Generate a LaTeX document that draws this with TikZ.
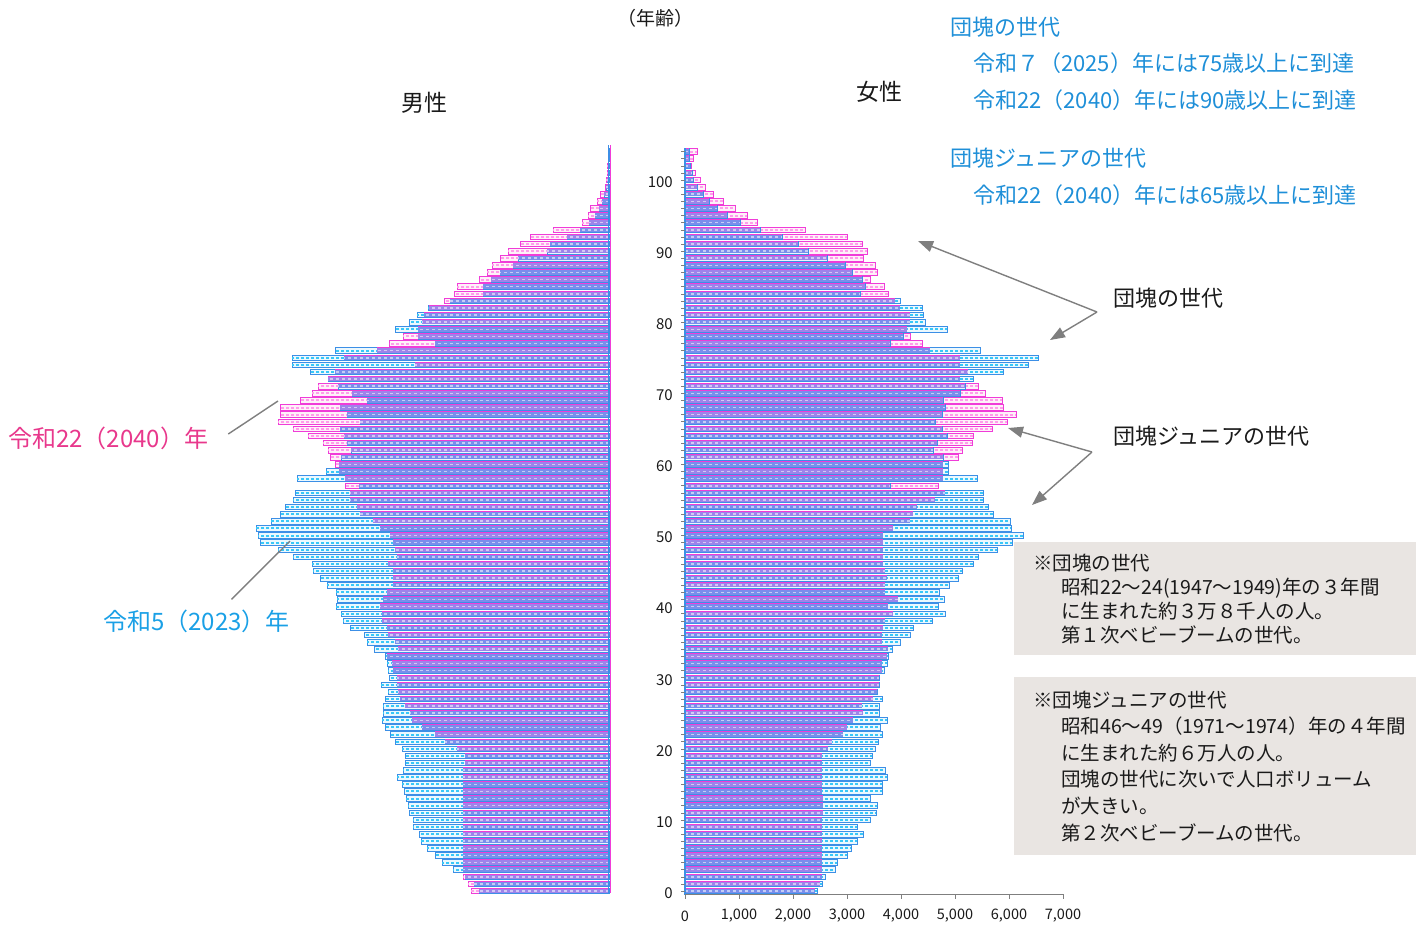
\documentclass[tikz,border=0pt]{standalone}
\usepackage{fontspec}
\setmainfont{Noto Sans CJK JP}
\usepackage{tikz}
\usetikzlibrary{arrows.meta,positioning}

\definecolor{blueline}{HTML}{3C8FE6}
\definecolor{cyandash}{HTML}{38C8F8}
\definecolor{magline}{HTML}{F03CD8}
\definecolor{pinkdash}{HTML}{FF9CEB}
\definecolor{mixfillA}{HTML}{7A8EEC}
\definecolor{mixfillB}{HTML}{9E84EA}
\definecolor{labelblue}{HTML}{1E8FD8}
\definecolor{yearblue}{HTML}{1AA0E6}
\definecolor{labelpink}{HTML}{E8388C}
\definecolor{boxgray}{HTML}{E9E5E2}
\definecolor{arrowgray}{HTML}{7F7F7F}
\definecolor{inkblack}{HTML}{1A1A1A}

\begin{document}
\begin{tikzpicture}[x=1pt, y=-1pt,
    bar23/.style={draw=blueline, line width=0.8pt, fill=cyan!8},
    bar40/.style={draw=magline, line width=0.8pt, fill=magenta!6},
    dash23/.style={cyandash, line width=2pt, dash pattern=on 3pt off 2pt},
    dash40/.style={pinkdash, line width=2pt, dash pattern=on 3pt off 2pt},
    bothA/.style={fill=mixfillA},
    bothB/.style={fill=mixfillB},
    bothedge/.style={magline, line width=0.8pt},
    bothdash/.style={white, opacity=0.55, line width=1.6pt, dash pattern=on 3pt off 3pt},
    agenum/.style={font=\fontsize{15}{17}\selectfont, text=inkblack, anchor=east, inner sep=1pt},
    axnum/.style={font=\fontsize{14.5}{16}\selectfont, text=inkblack, inner sep=1pt},
    head/.style={font=\fontsize{23}{26}\selectfont, text=inkblack},
    bluenote/.style={font=\fontsize{22}{26}\selectfont, text=labelblue, anchor=west, inner sep=0pt},
    tag/.style={font=\fontsize{22}{26}\selectfont, text=inkblack, anchor=west, inner sep=0pt},
    yeartag/.style={font=\fontsize{24}{28}\selectfont, anchor=west, inner sep=0pt},
    notebox/.style={fill=boxgray, anchor=north west, minimum width=402, inner xsep=19pt,
        inner ysep=0pt, text width=364pt, align=left, text=inkblack},
    pointer/.style={arrowgray, line width=1.4pt, -{Triangle[length=15pt,width=11pt]}},
    leader/.style={arrowgray, line width=1.4pt}]

\useasboundingbox (0,0) rectangle (1423,926);

% female bars (2023 / 2040)
\foreach \p/\q [count=\a from 0] in {132/130,137/135,140/137,150/137,152/137,162/137,166/137,172/137,178/137,172/137,
    185/137,191/138,192/138,185/138,197/137,197/137,202/137,200/137,185/137,187/137,
    190/143,193/147,197/158,195/162,202/168,194/178,194/177,197/188,192/192,194/194,
    194/194,199/197,202/197,203/202,207/203,215/197,225/197,228/198,247/200,260/208,
    253/203,259/213,254/200,264/200,273/202,277/200,288/198,293/198,312/198,327/198,
    338/198,326/208,325/225,308/228,303/232,298/250,298/260,205/253,292/258,263/258,
    263/258,258/273,248/277,252/287,262/288,257/307,250/322,257/331,260/318,258/317,
    275/300,280/293,288/275,318/283,343/275,353/275,295/245,205/237,218/225,262/222,
    240/225,238/225,237/215,215/210,175/203,180/199,177/185,167/192,160/190,142/178,
    123/182,113/177,97/162,75/120,55/72,42/62,32/50,24/38,18/28,12/20,
    8/15,7/10,5/6,4/8,4/12}{
  \pgfmathsetmacro\yc{891-7.11*\a}
  \pgfmathsetmacro\r{min(\p,\q)}
  \draw[bar40] (685,\yc-2.8) rectangle ++(\q,5.6);
  \draw[dash40] (685,\yc) -- ++(\q,0);
  \draw[bar23] (685,\yc-2.8) rectangle ++(\p,5.6);
  \draw[dash23] (685,\yc) -- ++(\p,0);
  \ifodd\a \fill[bothB] (685,\yc-2.2) rectangle ++(\r,4.4);
  \else \fill[bothA] (685,\yc-2.2) rectangle ++(\r,4.4); \fi
  \draw[bothedge] (685,\yc-2.8) -- ++(\r,0);
  \draw[bothdash] (685,\yc) -- ++(\r,0);
}

% male bars (2023 / 2040)
\foreach \p/\q [count=\a from 0] in {130/138,135/141,144/146,156/146,167/146,174/146,182/146,188/146,190/146,196/146,
    196/146,200/146,201/146,203/146,205/146,207/146,212/146,206/146,204/144,204/144,
    207/152,214/164,219/174,224/187,227/197,226/199,226/204,224/209,221/211,228/212,
    220/212,221/216,222/217,224/222,235/211,242/214,245/221,259/222,266/227,268/227,
    273/229,272/226,273/222,282/216,289/216,296/216,297/221,316/212,331/214,349/216,
    351/219,353/229,338/236,329/249,324/252,316/259,314/259,250/264,312/264,283/270,
    270/274,268/279,258/281,262/286,265/301,269/316,249/331,262/329,269/329,242/309,
    257/297,271/291,281/281,299/274,317/194,317/265,274/232,174/220,191/206,214/191,
    200/187,192/185,181/180,159/165,126/155,126/152,118/130,109/122,96/117,91/109,
    62/101,59/89,42/79,29/56,20/27,14/21,10/19,7/12,5/9,3/4,
    2/3,1/2,1/2,1/1,1/1}{
  \pgfmathsetmacro\yc{891-7.11*\a}
  \pgfmathsetmacro\r{min(\p,\q)}
  \draw[bar40] (609,\yc-2.8) rectangle ++(-\q,5.6);
  \draw[dash40] (609,\yc) -- ++(-\q,0);
  \draw[bar23] (609,\yc-2.8) rectangle ++(-\p,5.6);
  \draw[dash23] (609,\yc) -- ++(-\p,0);
  \ifodd\a \fill[bothA] (609,\yc-2.2) rectangle ++(-\r,4.4);
  \else \fill[bothB] (609,\yc-2.2) rectangle ++(-\r,4.4); \fi
  \draw[bothedge] (609,\yc-2.8) -- ++(-\r,0);
  \draw[bothdash] (609,\yc) -- ++(-\r,0);
}

% axes
\draw[magline, line width=1pt] (610,145) -- (610,893);
\draw[blueline, line width=1pt] (608.5,145) -- (608.5,893);
\draw[blueline, line width=1.3pt] (685,148) -- (685,895);
\foreach \a in {0,...,104}
  \draw[arrowgray, line width=0.5pt] (681,891-7.11*\a) -- (685,891-7.11*\a);
\draw[arrowgray, line width=0.8pt] (685,894) -- (1063,894);
\foreach \k/\t in {0/0,1/{1,000},2/{2,000},3/{3,000},4/{4,000},5/{5,000},6/{6,000},7/{7,000}}{
  \draw[arrowgray, line width=0.8pt] (685+54*\k,894) -- (685+54*\k,899);
  \node[axnum] (ax\k) at (685+54*\k,916) {\t};
}
\foreach \v in {0,10,...,100}
  \node[agenum] (age\v) at (674,893-7.11*\v) {\v};

% headings
\node[font=\fontsize{19}{22}\selectfont, text=inkblack] (unit) at (655,18) {（年齢）};
\node[head] (male) at (424,103) {男性};
\node[head] (female) at (879,92) {女性};

% notes, upper right
\node[bluenote] (n1) at (950,27) {団塊の世代};
\node[bluenote] (n2) at (973,63) {令和７（2025）年には75歳以上に到達};
\node[bluenote] (n3) at (973,100) {令和22（2040）年には90歳以上に到達};
\node[bluenote] (n4) at (950,158) {団塊ジュニアの世代};
\node[bluenote] (n5) at (973,195) {令和22（2040）年には65歳以上に到達};

% year labels
\node[yeartag, text=labelpink] (y40) at (8,438) {令和22（2040）年};
\node[yeartag, text=yearblue] (y23) at (103,621) {令和5（2023）年};
\coordinate (y40tip) at (278,401);
\coordinate (y23tip) at (290,541);
\draw[leader] ([xshift=20pt,yshift=4pt]y40.east) -- (y40tip);
\draw[leader] ([xshift=35pt,yshift=10pt]y23.north) -- (y23tip);

% generation pointers
\node[tag] (dankai) at (1113,298) {団塊の世代};
\node[tag] (junior) at (1113,436) {団塊ジュニアの世代};
\coordinate (dkfork) at (1097,312);
\coordinate (dktip1) at (918,241);
\coordinate (dktip2) at (1050,340);
\coordinate (jrfork) at (1092,452);
\coordinate (jrtip1) at (1008,428);
\coordinate (jrtip2) at (1032,505);
\draw[pointer] (dkfork) -- (dktip1);
\draw[pointer] (dkfork) -- (dktip2);
\draw[pointer] (jrfork) -- (jrtip1);
\draw[pointer] (jrfork) -- (jrtip2);

% explanation boxes
\node[notebox, minimum height=113, font=\fontsize{19.5}{24}\selectfont] (box1) at (1014,542)
  {※団塊の世代\\
   \hspace*{28pt}昭和22～24(1947～1949)年の３年間\\
   \hspace*{28pt}に生まれた約３万８千人の人。\\
   \hspace*{28pt}第１次ベビーブームの世代。};
\node[notebox, minimum height=178, font=\fontsize{19.5}{26.6}\selectfont] (box2) at (1014,677)
  {※団塊ジュニアの世代\\
   \hspace*{28pt}昭和46～49（1971～1974）年の４年間\\
   \hspace*{28pt}に生まれた約６万人の人。\\
   \hspace*{28pt}団塊の世代に次いで人口ボリューム\\
   \hspace*{28pt}が大きい。\\
   \hspace*{28pt}第２次ベビーブームの世代。};
\end{tikzpicture}
\end{document}
